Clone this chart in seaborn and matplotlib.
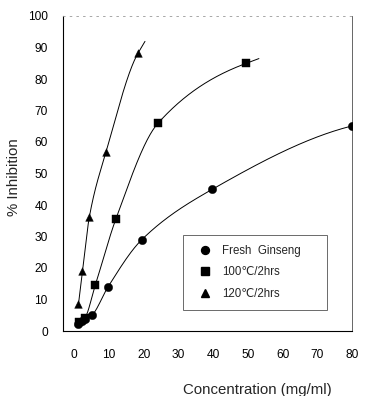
import numpy as np
import pandas as pd
import matplotlib
matplotlib.use("Agg")
import matplotlib.pyplot as plt
import seaborn as sns

# ---- data ----
fresh_x = [1.0, 2.2, 3.2, 5.1, 9.7, 19.4, 39.8, 80.0]
fresh_y = [2.1, 3.2, 3.7, 5.0, 13.9, 28.9, 45.0, 65.1]
c100_x = [1.5, 3.0, 6.1, 12.0, 24.1, 49.6]
c100_y = [2.8, 4.0, 14.6, 35.5, 65.9, 85.0]
c120_x = [1.25, 2.4, 4.4, 9.2, 18.5]
c120_y = [8.5, 19.0, 36.3, 56.9, 88.4]
labels = ["Fresh  Ginseng", "100\u2103/2hrs", "120\u2103/2hrs"]
x_ticks = [0, 10, 20, 30, 40, 50, 60, 70, 80]
y_ticks = [0, 10, 20, 30, 40, 50, 60, 70, 80, 90, 100]


def pchip(x, y, xs):
    x = np.asarray(x, float); y = np.asarray(y, float)
    h = np.diff(x); d = np.diff(y) / h
    n = len(x); m = np.zeros(n)
    for k in range(1, n - 1):
        if d[k - 1] * d[k] > 0:
            w1 = 2 * h[k] + h[k - 1]; w2 = h[k] + 2 * h[k - 1]
            m[k] = (w1 + w2) / (w1 / d[k - 1] + w2 / d[k])
    m[0] = d[0]
    m[-1] = 0.55 * d[-1]
    out = np.empty_like(xs)
    for i, xv in enumerate(xs):
        if xv >= x[-1]:
            out[i] = y[-1] + m[-1] * (xv - x[-1]); continue
        k = min(np.searchsorted(x, xv, side="right") - 1, n - 2)
        t = (xv - x[k]) / h[k]
        h00 = 2 * t**3 - 3 * t**2 + 1; h10 = t**3 - 2 * t**2 + t
        h01 = -2 * t**3 + 3 * t**2; h11 = t**3 - t**2
        out[i] = h00 * y[k] + h10 * h[k] * m[k] + h01 * y[k + 1] + h11 * h[k] * m[k + 1]
    return out


sns.set_style("white")
plt.rcParams["font.family"] = ["Liberation Sans", "DejaVu Sans"]

fig = plt.figure(figsize=(3.65, 3.96), dpi=100)
ax = fig.add_axes([63 / 365, 1 - 331 / 396, 289 / 365, 315 / 396])

series = [(fresh_x, fresh_y, "o", 6.0, None),
          (c100_x, c100_y, "s", 5.5, 53.2),
          (c120_x, c120_y, "^", 5.5, 20.4)]
handles = []
for (xs, ys, mk, ms, xend), lab in zip(series, labels):
    end = xend if xend else xs[-1]
    xx = np.linspace(xs[0], end, 300)
    yy = pchip(xs, ys, xx)
    sns.lineplot(x=xx, y=yy, ax=ax, color="black", lw=0.7, estimator=None, sort=False)
    pts = pd.DataFrame({"x": xs, "y": ys})
    sns.scatterplot(data=pts, x="x", y="y", ax=ax, marker=mk, s=ms**2,
                    color="black", edgecolor="black", linewidth=0.3, zorder=3)
    handles.append(plt.Line2D([], [], ls="none", marker=mk, color="black",
                              markersize=ms * 0.95, label=lab))

ax.set_xlim(-3.2, 80)
ax.set_ylim(0, 100)
ax.set_xticks(x_ticks)
ax.set_yticks(y_ticks)
ax.tick_params(axis="both", direction="out", length=4, width=0.7,
               labelsize=8.6, colors="black")
ax.tick_params(axis="x", pad=9)
ax.tick_params(axis="y", pad=7)
for s in ["left", "bottom"]:
    ax.spines[s].set_color("black"); ax.spines[s].set_linewidth(0.8)
ax.spines["top"].set_color("#999999"); ax.spines["top"].set_linewidth(0.6)
ax.spines["top"].set_linestyle((0, (2, 6)))
ax.spines["right"].set_color("#666666"); ax.spines["right"].set_linewidth(0.7)

ax.set_ylabel("% Inhibition", fontsize=10.8)
ax.set_xlabel("Concentration (mg/ml)", fontsize=10.8)
ax.yaxis.set_label_coords(-0.145, 0.487)
ax.xaxis.set_label_coords((257 - 63) / 289, -0.165)

leg = ax.legend(handles=handles, loc="upper left",
                bbox_to_anchor=(0.414, (331 - 238) / 315, 0.498, 0.01), mode="expand",
                borderaxespad=0, frameon=True, fancybox=False, fontsize=8.3,
                labelspacing=0.8, handletextpad=0.5, handlelength=2.0,
                borderpad=0.9)
leg.get_frame().set_edgecolor("#444444")
leg.get_frame().set_linewidth(0.7)

fig.savefig("out.png", dpi=100)
